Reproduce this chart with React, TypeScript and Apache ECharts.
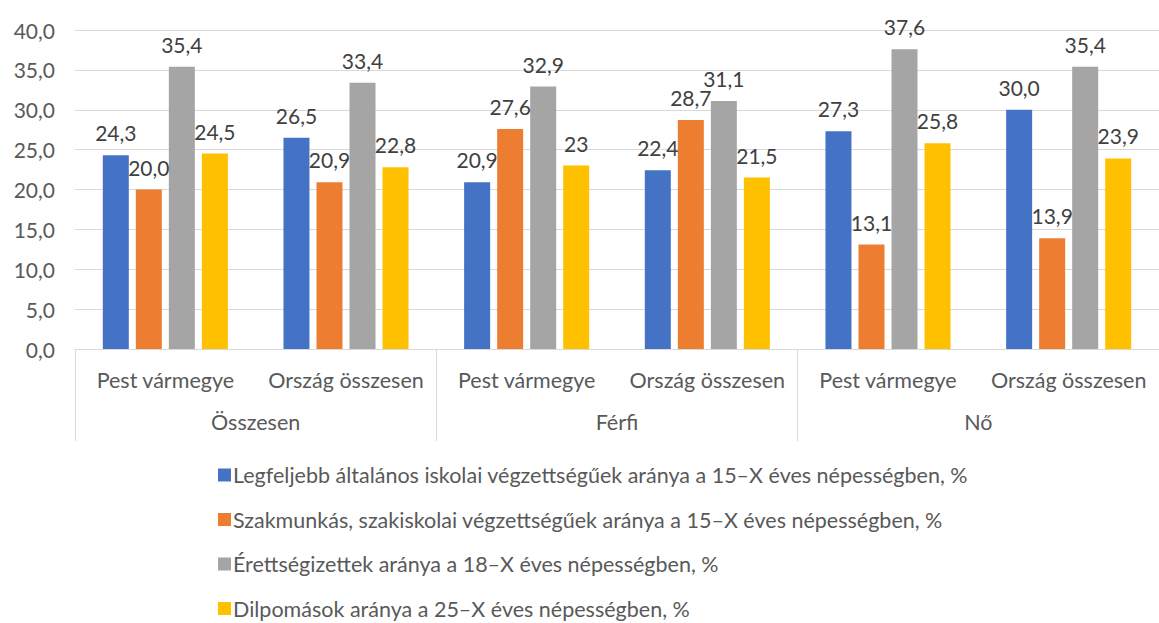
import React, { useEffect, useRef } from "react";
import * as echarts from "echarts";

const categories = [
  "Pest vármegye",
  "Ország összesen",
  "Pest vármegye",
  "Ország összesen",
  "Pest vármegye",
  "Ország összesen",
];
const groups = ["Összesen", "Férfi", "Nő"];

const seriesNames = [
  "Legfeljebb általános iskolai végzettségűek aránya a 15–X éves népességben, %",
  "Szakmunkás, szakiskolai végzettségűek aránya a 15–X éves népességben, %",
  "Érettségizettek aránya a 18–X éves népességben, %",
  "Dilpomások aránya a 25–X éves népességben, %",
];

const elementary = [24.3, 26.5, 20.9, 22.4, 27.3, 30.0];
const vocational = [20.0, 20.9, 27.6, 28.7, 13.1, 13.9];
const secondary = [35.4, 33.4, 32.9, 31.1, 37.6, 35.4];
const graduates = [24.5, 22.8, 23, 21.5, 25.8, 23.9];
const graduateLabels = ["24,5", "22,8", "23", "21,5", "25,8", "23,9"];

const yTicks = { min: 0, max: 40, interval: 5 };

const colors = ["#4472C4", "#ED7D31", "#A5A5A5", "#FFC000"];
const FONT = "Lato";

const fmt = (v: number) => v.toFixed(1).replace(".", ",");

export default function App() {
  const ref = useRef<HTMLDivElement>(null);
  useEffect(() => {
    if (!ref.current) return;
    const chart = echarts.init(ref.current, null, { renderer: "svg" });
    const values = [elementary, vocational, secondary, graduates];
    const series = values.map((arr, i) => ({
      type: "bar",
      name: seriesNames[i],
      data: arr,
      xAxisIndex: 0,
      barWidth: 26,
      barGap: "27%",
      itemStyle: { color: colors[i] },
      label: {
        show: true,
        position: "top",
        distance: 12,
        fontFamily: FONT,
        fontSize: 21,
        color: "#404040",
        formatter: (p: any) =>
          i === 3 ? graduateLabels[p.dataIndex] : fmt(p.value as number),
      },
    }));
    chart.setOption({
      animation: false,
      textStyle: { fontFamily: FONT },
      grid: { left: 75, top: 30, width: 1099, height: 319, containLabel: false },
      legend: {
        orient: "vertical",
        left: 213,
        top: 459,
        itemWidth: 13,
        itemHeight: 13,
        itemGap: 22.5,
        icon: "rect",
        textStyle: { fontFamily: FONT, fontSize: 21.5, color: "#595959", padding: [0, 0, 0, -3] },
        data: seriesNames,
      },
      xAxis: [
        {
          type: "category",
          data: categories,
          position: "bottom",
          axisLine: { show: true, lineStyle: { color: "#d9d9d9", width: 1 } },
          axisTick: { show: false },
          axisLabel: { fontFamily: FONT, fontSize: 21.5, color: "#595959", margin: 20, interval: 0 },
        },
        {
          type: "category",
          data: groups,
          position: "bottom",
          gridIndex: 0,
          axisLine: { show: false },
          axisTick: { show: true, length: 92, lineStyle: { color: "#d9d9d9", width: 1 } },
          axisLabel: { fontFamily: FONT, fontSize: 21.5, color: "#595959", margin: 62, interval: 0 },
        },
      ],
      yAxis: {
        type: "value",
        min: yTicks.min,
        max: yTicks.max,
        interval: yTicks.interval,
        axisLine: { show: false },
        axisTick: { show: false },
        splitLine: { lineStyle: { color: "#d9d9d9", width: 1 } },
        axisLabel: {
          fontFamily: FONT,
          fontSize: 21,
          color: "#595959",
          margin: 20,
          formatter: (v: number) => fmt(v),
        },
      },
      series,
    });
    return () => chart.dispose();
  }, []);
  return (
    <div
      ref={ref}
      style={{ position: "fixed", left: 0, top: 0, width: 1159, height: 660, background: "#fff" }}
    />
  );
}
